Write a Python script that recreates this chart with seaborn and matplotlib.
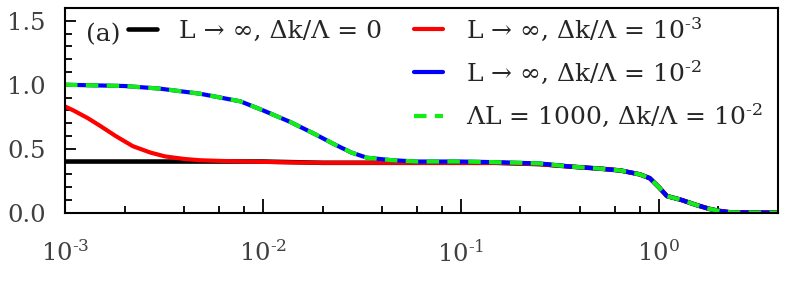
import numpy as np
import pandas as pd
import matplotlib
matplotlib.use("Agg")
import matplotlib.pyplot as plt
import seaborn as sns

# curve values
x_black = [1e-3, 5e-3, 1e-2, 2e-2, 4e-2, 0.1, 0.15, 0.25, 0.36, 0.5, 0.64, 0.8, 0.9, 1.0, 1.1,
           1.3, 1.55, 1.8, 2.0, 2.3, 4.0]
y_black = [0.40, 0.40, 0.40, 0.39, 0.39, 0.39, 0.39, 0.38, 0.36, 0.345, 0.33, 0.30, 0.27, 0.20, 0.13,
           0.10, 0.06, 0.03, 0.015, 0.003, 0.0]

x_red = [1e-3, 1.1e-3, 1.3e-3, 1.5e-3, 1.8e-3, 2.2e-3, 2.7e-3, 3.2e-3, 4e-3, 4.8e-3, 6e-3, 8e-3,
         1.2e-2, 2e-2, 4e-2, 0.1, 0.15, 0.25, 0.36, 0.5, 0.64, 0.8, 0.9, 1.0, 1.1, 1.3,
         1.55, 1.8, 2.0, 2.3, 4.0]
y_red = [0.83, 0.80, 0.74, 0.68, 0.60, 0.52, 0.47, 0.44, 0.42, 0.41, 0.405, 0.40,
         0.395, 0.39, 0.39, 0.39, 0.39, 0.38, 0.36, 0.345, 0.33, 0.30, 0.27, 0.20, 0.13, 0.10,
         0.06, 0.03, 0.015, 0.003, 0.0]

x_blue = [1e-3, 2e-3, 3e-3, 4.8e-3, 7.7e-3, 1e-2, 1.37e-2, 1.8e-2, 2.26e-2, 2.8e-2, 3.35e-2,
          4.5e-2, 6e-2, 0.1, 0.15, 0.25, 0.36, 0.5, 0.64, 0.8, 0.9, 1.0, 1.1, 1.3, 1.55,
          1.8, 2.0, 2.3, 4.0]
y_blue = [1.0, 0.99, 0.97, 0.93, 0.87, 0.80, 0.71, 0.62, 0.54, 0.47, 0.43,
          0.41, 0.40, 0.40, 0.395, 0.385, 0.36, 0.345, 0.33, 0.30, 0.27, 0.20, 0.13, 0.10, 0.06,
          0.03, 0.015, 0.003, 0.0]

x_green = x_blue
y_green = y_blue

labels = ["L → ∞, Δk/Λ = 0",
          r"L → ∞, Δk/Λ = $10^{\text{-}3}$",
          r"L → ∞, Δk/Λ = $10^{\text{-}2}$",
          r"ΛL = 1000, Δk/Λ = $10^{\text{-}2}$"]

xticks = [1e-3, 1e-2, 1e-1, 1e0]
xticklabels = [r"$10^{\text{-}3}$", r"$10^{\text{-}2}$", r"$10^{\text{-}1}$", r"$10^{0}$"]
yticks = [0.0, 0.5, 1.0, 1.5]
yticklabels = ["0.0", "0.5", "1.0", "1.5"]

sns.set_style("ticks")
plt.rcParams["font.family"] = ["DejaVu Serif", "DejaVu Sans"]
plt.rcParams["mathtext.fontset"] = "dejavuserif"

fig = plt.figure(figsize=(7.89, 2.84), dpi=100)
ax = fig.add_axes([0.0824, 0.251, 0.9036, 0.721])

sns.lineplot(x=x_black, y=y_black, ax=ax, color="black", lw=3.3, sort=False, label=labels[0])
sns.lineplot(x=x_red, y=y_red, ax=ax, color="red", lw=3, sort=False, label=labels[1])
sns.lineplot(x=x_blue, y=y_blue, ax=ax, color="blue", lw=3, sort=False, label=labels[2])
sns.lineplot(x=x_green, y=y_green, ax=ax, color="#11ee11", lw=3, sort=False,
             label=labels[3], linestyle=(0, (3, 2)))

ax.set_xscale("log")
ax.set_xlim(1e-3, 4)
ax.set_ylim(0, 1.6)
ax.set_xticks(xticks)
ax.set_xticklabels(xticklabels)
ax.set_yticks(yticks)
ax.set_yticklabels(yticklabels)
ax.yaxis.set_minor_locator(matplotlib.ticker.MultipleLocator(0.1))
ax.xaxis.set_minor_locator(matplotlib.ticker.LogLocator(base=10, subs=[2, 4, 6, 8]))
ax.xaxis.set_minor_formatter(matplotlib.ticker.NullFormatter())
ax.tick_params(which="both", direction="in", colors="black", labelcolor="#404040",
               labelsize=17.5, width=1.3)
ax.tick_params(which="major", length=8)
ax.tick_params(which="minor", length=5)
ax.tick_params(axis="x", which="major", length=10, pad=20)
ax.tick_params(axis="y", which="major", pad=14)
for s in ax.spines.values():
    s.set_linewidth(1.5)
    s.set_color("black")
ax.set_xlabel("")
ax.set_ylabel("")

handles, _ = ax.get_legend_handles_labels()
if ax.legend_:
    ax.legend_.remove()
ax.text(0.03, 0.87, "(a)", transform=ax.transAxes, fontsize=18, va="center", ha="left")
leg1 = ax.legend(handles[:1], labels[:1], loc="upper left", bbox_to_anchor=(0.088, 0.94),
                 frameon=False, fontsize=18, handlelength=1.15, handletextpad=0.9,
                 borderpad=0, borderaxespad=0)
ax.add_artist(leg1)
ax.legend(handles[1:], labels[1:], loc="upper left", bbox_to_anchor=(0.49, 0.965),
          frameon=False, fontsize=18, handlelength=1.15, handletextpad=0.9,
          labelspacing=0.62, borderpad=0, borderaxespad=0)

fig.savefig("out.png", dpi=100)
